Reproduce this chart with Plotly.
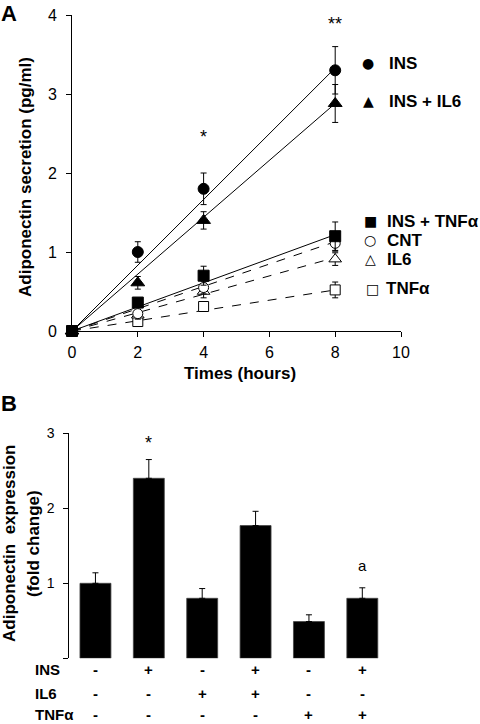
import plotly.graph_objects as go

# ---------------- Panel A data ----------------
times = [0, 2, 4, 8]
ins = [0, 1.00, 1.80, 3.30]
ins_err = [0, 0.13, 0.20, 0.30]
ins_il6 = [0, 0.61, 1.40, 2.88]
ins_il6_err = [0, 0.08, 0.11, 0.24]
ins_tnf = [0, 0.36, 0.70, 1.20]
ins_tnf_err = [0, 0.05, 0.12, 0.18]
cnt = [0, 0.22, 0.55, 1.11]
cnt_err = [0, 0.05, 0.08, 0.10]
il6 = [0, 0.20, 0.50, 0.91]
il6_err = [0, 0.05, 0.08, 0.08]
tnf = [0, 0.12, 0.31, 0.52]
tnf_err = [0, 0.04, 0.04, 0.10]

trend_x = [0, 8]
trend_ins = [0, 3.33]
trend_ins_il6 = [0, 2.88]
trend_ins_tnf = [0, 1.22]
trend_cnt = [0, 1.13]
trend_il6 = [0, 0.93]
trend_tnf = [0, 0.52]

x_ticks_a = [0, 2, 4, 6, 8, 10]
y_ticks_a = [0, 1, 2, 3, 4]

# ---------------- Panel B data ----------------
groups = [0, 1, 2, 3, 4, 5]
expr = [1.00, 2.40, 0.80, 1.77, 0.49, 0.80]
expr_err = [0.14, 0.25, 0.13, 0.19, 0.09, 0.14]
y_ticks_b = [1, 2, 3]
row_labels = ["INS", "IL6", "TNFα"]
ins_signs = ["-", "+", "-", "+", "-", "+"]
il6_signs = ["-", "-", "+", "+", "-", "-"]
tnf_signs = ["-", "-", "-", "-", "+", "+"]

W, H = 480, 724
def px(x):
    return x / W
def py(y):
    return 1 - y / H

FONT = "Liberation Sans, Arial, sans-serif"

fig = go.Figure()

def err(vals):
    return dict(type="data", array=vals, visible=True, color="black", thickness=1, width=3)

# trend lines
for tv, dash in [(trend_tnf, "dash"), (trend_il6, "dash"), (trend_cnt, "dash"),
                 (trend_ins_tnf, "solid"), (trend_ins_il6, "solid"), (trend_ins, "solid")]:
    fig.add_trace(go.Scatter(x=trend_x, y=tv, mode="lines", xaxis="x", yaxis="y",
                             line=dict(color="black", width=1, dash=dash),
                             showlegend=False, hoverinfo="skip", cliponaxis=False))

series = [
    (tnf, tnf_err, "square", "white", 10),
    (il6, il6_err, "triangle-up", "white", 11),
    (cnt, cnt_err, "circle", "white", 10),
    (ins_tnf, ins_tnf_err, "square", "black", 11),
    (ins_il6, ins_il6_err, "triangle-up", "black", 12),
    (ins, ins_err, "circle", "black", 11),
]
for vals, e, sym, fill, size in series:
    fig.add_trace(go.Scatter(x=times, y=vals, mode="markers", xaxis="x", yaxis="y",
                             error_y=err(e),
                             marker=dict(symbol=sym, color=fill, size=size,
                                         line=dict(color="black", width=1)),
                             showlegend=False, cliponaxis=False))

# panel B bars
fig.add_trace(go.Bar(x=groups, y=expr, xaxis="x2", yaxis="y2",
                     marker=dict(color="black", line=dict(color="#444", width=0.8)),
                     error_y=dict(type="data", array=expr_err, arrayminus=[0]*6,
                                  symmetric=False, visible=True, color="black",
                                  thickness=1, width=3),
                     showlegend=False))

axis_common = dict(showline=True, linecolor="black", linewidth=1, ticks="outside",
                   ticklen=5, tickcolor="black", showgrid=False, zeroline=False,
                   automargin=False,
                   tickfont=dict(family=FONT, size=16, color="black"))

fig.update_layout(
    width=W, height=H, margin=dict(l=0, r=0, t=0, b=0, pad=0, autoexpand=False),
    paper_bgcolor="white", plot_bgcolor="white",
    font=dict(family=FONT, color="black"),
    bargap=0.42,
    xaxis=dict(domain=[px(72), px(401)], range=[0, 10], tickvals=x_ticks_a,
               anchor="y", ticklabelstandoff=2, **axis_common),
    yaxis=dict(domain=[py(331), py(15)], range=[0, 4], tickvals=y_ticks_a,
               anchor="x", ticklabelstandoff=6, **axis_common),
    xaxis2=dict(domain=[px(69.3), px(389)], range=[-0.49, 5.5], anchor="y2",
                showline=False, showticklabels=False, ticks="", showgrid=False,
                zeroline=False, automargin=False),
    yaxis2=dict(domain=[py(658.3), py(433.3)], range=[0, 3], tickvals=[0] + y_ticks_b,
                ticktext=[""] + [str(v) for v in y_ticks_b], anchor="x2",
                ticklabelstandoff=6,
                **{**axis_common, "tickfont": dict(family=FONT, size=14, color="black")}),
)

ann = []
def A(xanchor="center", yanchor="middle", **k):
    ann.append(dict(xanchor=xanchor, yanchor=yanchor, showarrow=False, **k))

# Panel labels
A(text="<b>A</b>", x=px(9), y=py(13), xref="paper", yref="paper",
  font=dict(size=22, family=FONT))
A(text="<b>B</b>", x=px(9), y=py(403), xref="paper", yref="paper",
  font=dict(size=22, family=FONT))

# Axis titles A
A(text="<b>Adiponectin secretion (pg/ml)</b>", x=px(25), y=py(177), xref="paper",
  yref="paper", textangle=-90, font=dict(size=17, family=FONT))
A(text="<b>Times (hours)</b>", x=px(240), y=py(373), xref="paper", yref="paper",
  font=dict(size=17, family=FONT))

# significance marks A
A(text="*", x=4, y=2.45, xref="x", yref="y", font=dict(size=18, family=FONT))
A(text="**", x=8, y=3.88, xref="x", yref="y", font=dict(size=18, family=FONT))

# Legend A
legend_items = [
    ("●", "INS", 368, 63, 387),
    ("▲", "INS + IL6", 368, 101, 387),
    ("■", "INS + TNFα", 370, 221, 385),
    ("○", "CNT", 370, 240, 385),
    ("△", "IL6", 370, 259, 385),
    ("□", "TNFα", 372, 289, 384),
]
for sym, label, mx, my, tx in legend_items:
    A(text=sym, x=px(mx), y=py(my), xref="paper", yref="paper",
      font=dict(size=14, family="DejaVu Sans"))
    A(text="<b>" + label + "</b>", x=px(tx), y=py(my), xref="paper", yref="paper",
      xanchor="left", font=dict(size=17, family=FONT))

# Axis title B
A(text="<b>Adiponectin  expression</b>", x=px(9), y=py(544), xref="paper", yref="paper",
  textangle=-90, font=dict(size=17, family=FONT))
A(text="<b>(fold change)</b>", x=px(33), y=py(544), xref="paper", yref="paper",
  textangle=-90, font=dict(size=17, family=FONT))

# significance B
A(text="*", x=1, y=2.87, xref="x2", yref="y2", font=dict(size=18, family=FONT))
A(text="a", x=5, y=1.24, xref="x2", yref="y2", font=dict(size=15, family=FONT))

# Treatment table
row_y = [669, 693, 714]
for label, signs, ry in zip(row_labels, [ins_signs, il6_signs, tnf_signs], row_y):
    A(text="<b>" + label + "</b>", x=px(33), y=py(ry), xref="paper", yref="paper",
      xanchor="left", font=dict(size=15, family=FONT))
    for g, s in zip(groups, signs):
        A(text="<b>" + s + "</b>", x=g, y=py(ry), xref="x2", yref="paper",
          font=dict(size=15, family=FONT))

fig.update_layout(annotations=ann)
fig.write_html(
    "out.html",
    config={"displayModeBar": False},
    post_script="document.body.style.margin='0';document.body.style.overflow='hidden';",
)
